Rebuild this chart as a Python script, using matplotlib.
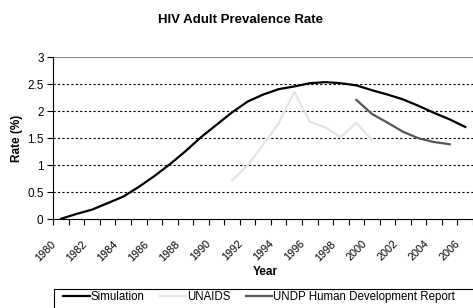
import numpy as np
import matplotlib
matplotlib.use("Agg")
import matplotlib.pyplot as plt
from matplotlib.patches import Rectangle
from matplotlib.transforms import ScaledTranslation

plt.rcParams['font.family'] = ['Liberation Sans', 'DejaVu Sans']

'''data'''
years = list(range(1980, 2007))
simulation = [0.01, 0.10, 0.18, 0.30, 0.42, 0.60, 0.80, 1.02, 1.26, 1.52,
              1.75, 1.98, 2.18, 2.31, 2.41, 2.46, 2.52, 2.54, 2.52, 2.48,
              2.39, 2.31, 2.22, 2.10, 1.97, 1.85, 1.71]
unaids_years = list(range(1991, 2001))
unaids = [0.72, 1.00, 1.38, 1.78, 2.36, 1.81, 1.70, 1.52, 1.79, 1.46]
undp_years = list(range(1999, 2006))
undp = [2.21, 1.95, 1.79, 1.62, 1.50, 1.43, 1.39]

'''plot'''
fig = plt.figure(figsize=(4.73, 3.08), dpi=100)
ax = fig.add_axes([0.1127, 0.288, 0.8873, 0.526])

idx = lambda ys: [y - years[0] for y in ys]
ax.plot(idx(years), simulation, color='black', lw=1.6, label='Simulation')
ax.plot(idx(unaids_years), unaids, color='#e4e4e4', lw=1.6, label='UNAIDS')
ax.plot(idx(undp_years), undp, color='#555555', lw=1.6, label='UNDP Human Development Report')

ax.set_xlim(-0.5, 26.33)
ax.set_ylim(0, 3)
ax.set_yticks(np.arange(0, 3.01, 0.5))
ax.set_yticklabels(['0', '0.5', '1', '1.5', '2', '2.5', '3'], fontsize=8.5)
for yv in [0.5, 1, 1.5, 2, 2.5]:
    ax.axhline(yv, color='black', lw=0.8, ls=(0, (2, 2)), zorder=0)
ax.axhline(3, color='#888888', lw=0.8, zorder=0)

# category axis: ticks between categories, labels every 2 years
ax.set_xticks(np.arange(-0.5, 27, 1), minor=True)
ax.set_xticks(idx(years[::2]))
ax.set_xticklabels([str(y) for y in years[::2]], rotation=45, ha='right',
                   va='center', rotation_mode='anchor', fontsize=7.8)
ax.tick_params(axis='x', which='major', length=0, pad=0)
ax.tick_params(axis='x', which='minor', length=4, direction='out', width=0.8)
ax.tick_params(axis='y', length=4, width=0.8, pad=3)
shift = ScaledTranslation(-7 / 100, -23 / 100, fig.dpi_scale_trans)
for lbl in ax.get_xticklabels():
    lbl.set_transform(lbl.get_transform() + shift)

for s in ['top', 'right']:
    ax.spines[s].set_visible(False)
ax.spines['left'].set_linewidth(0.8)
ax.spines['bottom'].set_linewidth(0.8)

ax.set_ylabel('Rate (%)', fontsize=8.5, fontweight='bold', labelpad=3)
fig.text(265 / 473, 1 - 272 / 308, 'Year', ha='center', va='center',
         fontsize=8.5, fontweight='bold')
fig.text(240 / 473, 1 - 20 / 308, 'HIV Adult Prevalence Rate', ha='center', va='center',
         fontsize=9.5, fontweight='bold')

# legend box runs off the right and bottom edges like the original
fig.patches.append(Rectangle((54 / 473, -0.05), 0.95, 1 - 289 / 308 + 0.05,
                             transform=fig.transFigure, fill=False,
                             edgecolor='black', lw=0.8))
leg = fig.legend(loc='center left', bbox_to_anchor=(63 / 473, 1 - 297 / 308), ncol=3,
                 fontsize=8.3, frameon=False,
                 handlelength=2.3, handletextpad=0.1, columnspacing=1.3,
                 borderpad=0, borderaxespad=0)

plt.savefig('out.png', dpi=100)
